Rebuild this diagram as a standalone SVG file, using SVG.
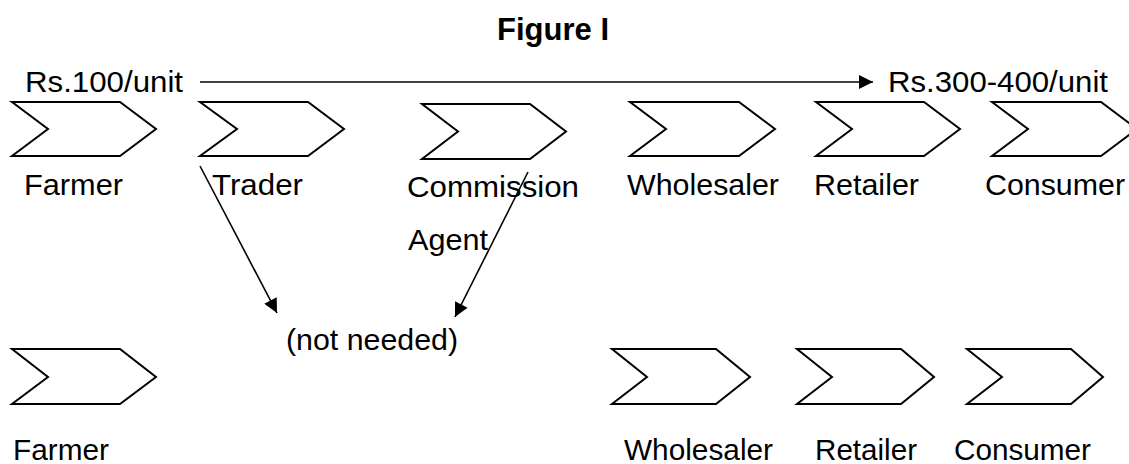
<svg xmlns="http://www.w3.org/2000/svg" width="1129" height="464" viewBox="0 0 1129 464">
<style>
.t{font-family:"Liberation Sans",Arial,sans-serif;font-size:29px;fill:#000}
.b{font-weight:bold;font-size:31px}
.ch{fill:#fff;stroke:#000;stroke-width:2;stroke-linejoin:miter}
.ln{stroke:#000;stroke-width:1.6;fill:none}
</style>
<defs>
<marker id="ah" viewBox="0 0 10 10" refX="10" refY="5" markerWidth="16" markerHeight="14" markerUnits="userSpaceOnUse" orient="auto">
<path d="M0,0 L10,5 L0,10 z" fill="#000"/>
</marker>
</defs>
<rect width="1129" height="464" fill="#fff"/>
<text class="t b" x="497" y="40" textLength="112" lengthAdjust="spacingAndGlyphs">Figure I</text>
<text class="t" x="25" y="92" textLength="158" lengthAdjust="spacingAndGlyphs">Rs.100/unit</text>
<text class="t" x="888" y="92" textLength="220" lengthAdjust="spacingAndGlyphs">Rs.300-400/unit</text>
<g id="top-farmer"><path class="ch" d="M12,102 L120,102 L156,129 L120,156 L12,156 L48,129 Z"/><text class="t" x="24" y="195" textLength="99" lengthAdjust="spacingAndGlyphs">Farmer</text></g>
<g id="top-trader"><path class="ch" d="M200,102 L308,102 L344,129 L308,156 L200,156 L237,129 Z"/><text class="t" x="212" y="195" textLength="91" lengthAdjust="spacingAndGlyphs">Trader</text></g>
<g id="top-commission"><path class="ch" d="M422,104 L530,104 L566,131.5 L530,159 L422,159 L458,131.5 Z"/><text class="t" x="407" y="197" textLength="172" lengthAdjust="spacingAndGlyphs">Commission</text><text class="t" x="408" y="250" textLength="80" lengthAdjust="spacingAndGlyphs">Agent</text></g>
<g id="top-wholesaler"><path class="ch" d="M630,102 L739,102 L775,129 L739,156 L630,156 L666,129 Z"/><text class="t" x="627" y="195" textLength="152" lengthAdjust="spacingAndGlyphs">Wholesaler</text></g>
<g id="top-retailer"><path class="ch" d="M816,102 L924,102 L960,129 L924,156 L816,156 L852,129 Z"/><text class="t" x="814" y="195" textLength="105" lengthAdjust="spacingAndGlyphs">Retailer</text></g>
<g id="top-consumer"><path class="ch" d="M992,102 L1101,102 L1137,129 L1101,156 L992,156 L1028,129 Z"/><text class="t" x="985" y="195" textLength="140" lengthAdjust="spacingAndGlyphs">Consumer</text></g>
<g id="not-needed"><text class="t" x="286" y="350" textLength="172" lengthAdjust="spacingAndGlyphs">(not needed)</text></g>
<g id="bot-farmer"><path class="ch" d="M12,349 L120,349 L156,377 L120,404 L12,404 L48,377 Z"/><text class="t" x="13" y="460" textLength="96" lengthAdjust="spacingAndGlyphs">Farmer</text></g>
<g id="bot-wholesaler"><path class="ch" d="M612,349 L716,349 L750,377 L716,404 L612,404 L647,377 Z"/><text class="t" x="624" y="460" textLength="149" lengthAdjust="spacingAndGlyphs">Wholesaler</text></g>
<g id="bot-retailer"><path class="ch" d="M797,349 L901,349 L934,377 L901,404 L797,404 L832,377 Z"/><text class="t" x="815" y="460" textLength="102" lengthAdjust="spacingAndGlyphs">Retailer</text></g>
<g id="bot-consumer"><path class="ch" d="M967,349 L1071,349 L1103,377 L1071,404 L967,404 L1002,377 Z"/><text class="t" x="954" y="460" textLength="137" lengthAdjust="spacingAndGlyphs">Consumer</text></g>
<g id="connectors">
<line class="ln" x1="200" y1="82" x2="873" y2="82" marker-end="url(#ah)"/>
<line class="ln" x1="200" y1="166" x2="277" y2="313" marker-end="url(#ah)"/>
<line class="ln" x1="528" y1="172" x2="455" y2="317" marker-end="url(#ah)"/>
</g>
</svg>
